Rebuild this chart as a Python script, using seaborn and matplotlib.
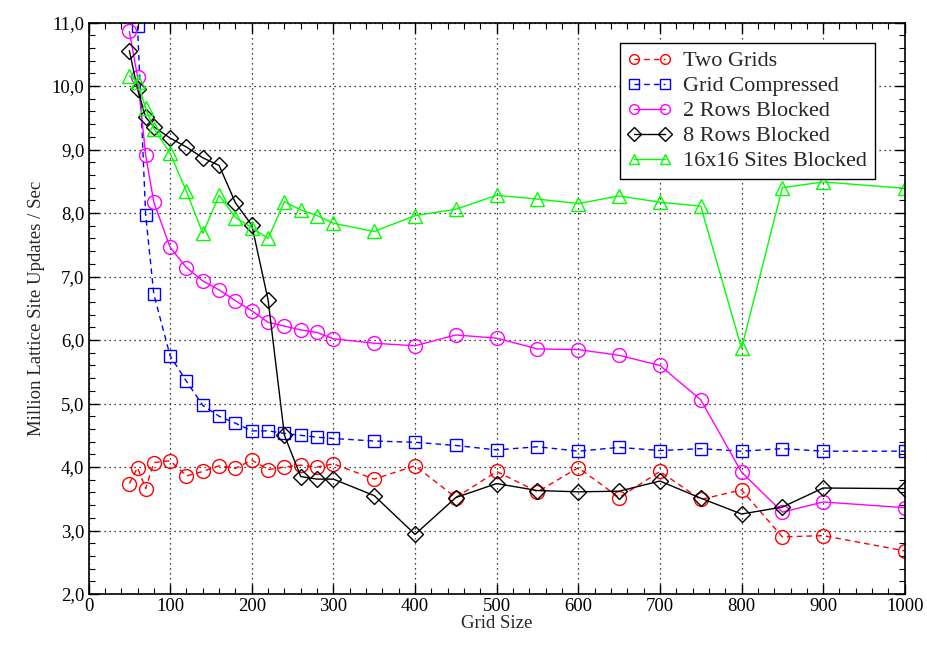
import pandas as pd
import matplotlib
matplotlib.use("Agg")
import matplotlib.pyplot as plt
from matplotlib.ticker import MultipleLocator, FuncFormatter
import seaborn as sns

# Grid sizes measured
grid_size = [50, 60, 70, 80, 100, 120, 140, 160, 180, 200, 220, 240, 260, 280,
             300, 350, 400, 450, 500, 550, 600, 650, 700, 750, 800, 850, 900, 1000]

# Million lattice site updates / sec for each variant
two_grids = [3.74, 3.99, 3.66, 4.07, 4.10, 3.86, 3.93, 4.02, 3.98, 4.11, 3.96, 4.00, 4.03, 4.00,
             4.05, 3.81, 4.02, 3.52, 3.93, 3.61, 3.99, 3.52, 3.93, 3.49, 3.64, 2.90, 2.92, 2.68]
grid_compressed = [None, 10.95, 7.97, 6.72, 5.75, 5.35, 4.97, 4.80, 4.69, 4.57, 4.57, 4.53, 4.50, 4.47,
                   4.45, 4.41, 4.39, 4.34, 4.27, 4.32, 4.25, 4.31, 4.26, 4.29, 4.25, 4.29, 4.25, 4.25]
rows2_blocked = [10.86, 10.15, 8.91, 8.17, 7.46, 7.14, 6.93, 6.79, 6.62, 6.46, 6.28, 6.22, 6.16, 6.12,
                 6.02, 5.95, 5.91, 6.08, 6.03, 5.86, 5.85, 5.76, 5.60, 5.06, 3.92, 3.29, 3.45, 3.36]
rows8_blocked = [10.56, 9.95, 9.51, 9.36, 9.18, 9.04, 8.87, 8.75, 8.16, 7.81, 6.63, 4.50, 3.85, 3.81,
                 3.81, 3.55, 2.94, 3.52, 3.74, 3.63, 3.61, 3.62, 3.78, 3.51, 3.26, 3.37, 3.67, 3.66]
sites16_blocked = [10.16, 10.07, 9.65, 9.33, 8.94, 8.34, 7.68, 8.28, 7.93, 7.77, 7.60, 8.18, 8.05, 7.96,
                   7.84, 7.71, 7.96, 8.06, 8.28, 8.22, 8.15, 8.27, 8.17, 8.11, 5.87, 8.40, 8.49, 8.39]

series = [
    ("Two Grids", two_grids, "#ff0000", "o", (0, (4, 3)), 10),
    ("Grid Compressed", grid_compressed, "#0000ff", "s", (0, (4, 3)), 8.5),
    ("2 Rows Blocked", rows2_blocked, "#ff00ff", "o", "-", 10),
    ("8 Rows Blocked", rows8_blocked, "#000000", "D", "-", 8.5),
    ("16x16 Sites Blocked", sites16_blocked, "#00ff00", "^", "-", 10),
]

sns.set_style("ticks")
plt.rcParams['font.family'] = ['Liberation Serif', 'DejaVu Serif']
plt.rcParams['font.size'] = 13

fig = plt.figure(figsize=(9.28, 6.45), dpi=100)
ax = fig.add_axes([0.0954, 0.079, 0.8796, 0.886])

for name, values, color, marker, ls, ms in series:
    df = pd.DataFrame({"size": grid_size, "rate": values}).dropna()
    sns.lineplot(data=df, x="size", y="rate", ax=ax, color=color, marker=marker,
                 linestyle=ls, linewidth=1.0, markersize=ms, markerfacecolor="none",
                 markeredgecolor=color, markeredgewidth=1.0, label=name,
                 errorbar=None, sort=False)

ax.set_xlim(0, 1000)
ax.set_ylim(2.0, 11.0)
ax.xaxis.set_major_locator(MultipleLocator(100))
ax.xaxis.set_minor_locator(MultipleLocator(20))
ax.yaxis.set_major_locator(MultipleLocator(1.0))
ax.yaxis.set_minor_locator(MultipleLocator(0.2))
ax.yaxis.set_major_formatter(FuncFormatter(lambda v, p: f"{v:.1f}".replace(".", ",")))
ax.xaxis.set_major_formatter(FuncFormatter(lambda v, p: f"{int(v)}"))
ax.tick_params(which="both", direction="in", top=True, right=True, colors="black",
               labelsize=13.5)
ax.tick_params(which="major", length=7, width=1, pad=3)
ax.tick_params(which="minor", length=4, width=0.8)
for s in ax.spines.values():
    s.set_linewidth(1.2)
    s.set_color("black")
ax.grid(True, which="major", color="black", linestyle=(0, (1, 3)), linewidth=0.9)

ax.set_xlabel("Grid Size", fontsize=13.5, labelpad=0)
ax.set_ylabel("Million Lattice Site Updates / Sec", fontsize=13.5, labelpad=5)

leg = ax.legend(loc="upper right", bbox_to_anchor=(0.963, 0.964), numpoints=2,
                handlelength=2.0, fontsize=16, fancybox=False, framealpha=1,
                edgecolor="black", borderpad=0.35, labelspacing=0.2, handletextpad=0.5,
                borderaxespad=0)
leg.get_frame().set_linewidth(1.0)
for h in leg.legend_handles:
    h.set_markersize(7)

fig.savefig("out.png", dpi=100)
